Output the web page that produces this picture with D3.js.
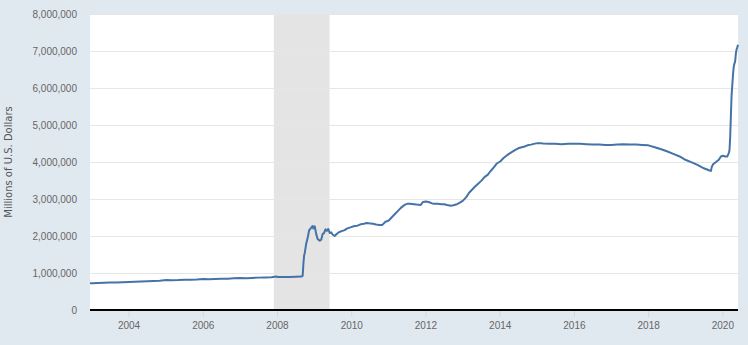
<!DOCTYPE html>
<html>
<head>
<meta charset="utf-8">
<script src="https://cdn.jsdelivr.net/npm/d3@7"></script>
<style>
  html, body { margin: 0; padding: 0; background: #e1e9f0; }
  svg { display: block; font-family: "DejaVu Sans", Verdana, sans-serif; }
</style>
</head>
<body>
<svg id="chart" width="748" height="345"></svg>
<script>
// Total assets, weekly H.4.1 readings (millions of U.S. dollars)
const dates = [
  "2002-12-18","2003-01-15","2003-03-05","2003-05-07","2003-07-02","2003-09-03","2003-11-05",
  "2004-01-07","2004-03-03","2004-05-05","2004-07-07","2004-09-01","2004-11-03",
  "2005-01-05","2005-03-02","2005-05-04","2005-07-06","2005-09-07","2005-11-02",
  "2006-01-04","2006-03-01","2006-05-03","2006-07-05","2006-09-06","2006-11-01",
  "2007-01-03","2007-03-07","2007-05-02","2007-07-04","2007-09-05","2007-11-07","2007-12-26",
  "2008-01-09","2008-03-05","2008-05-07","2008-07-02","2008-08-27","2008-09-10","2008-09-17",
  "2008-09-24","2008-10-01","2008-10-15","2008-10-29","2008-11-12","2008-11-26","2008-12-10",
  "2008-12-17","2008-12-24","2009-01-07","2009-01-21","2009-02-04","2009-02-25","2009-03-11",
  "2009-03-25","2009-04-08","2009-04-22","2009-05-06","2009-05-20","2009-06-03","2009-06-17",
  "2009-07-01","2009-07-22","2009-08-05","2009-08-26","2009-09-16","2009-10-07","2009-10-28",
  "2009-11-18","2009-12-09","2009-12-30","2010-02-03","2010-03-03","2010-04-07","2010-05-05",
  "2010-06-02","2010-07-07","2010-08-04","2010-09-01","2010-10-06","2010-11-03","2010-12-01",
  "2011-01-05","2011-02-02","2011-03-02","2011-04-06","2011-05-04","2011-06-08","2011-07-06",
  "2011-08-03","2011-09-07","2011-10-05","2011-11-16","2011-12-07","2012-01-04","2012-02-01",
  "2012-03-07","2012-04-04","2012-05-02","2012-06-06","2012-07-04","2012-08-01","2012-09-05",
  "2012-10-03","2012-11-07","2012-12-05","2013-01-02","2013-02-06","2013-03-06","2013-04-03",
  "2013-05-01","2013-06-05","2013-07-03","2013-08-07","2013-09-04","2013-10-02","2013-11-06",
  "2013-12-04","2014-01-08","2014-02-05","2014-03-05","2014-04-02","2014-05-07","2014-06-04",
  "2014-07-02","2014-08-06","2014-09-03","2014-10-01","2014-11-05","2014-12-03","2015-01-07",
  "2015-02-04","2015-03-04","2015-05-06","2015-07-01","2015-09-02","2015-11-04","2016-01-06",
  "2016-03-02","2016-05-04","2016-07-06","2016-09-07","2016-11-02","2017-01-04","2017-03-01",
  "2017-05-03","2017-07-05","2017-09-06","2017-11-01","2018-01-03","2018-03-07","2018-05-02",
  "2018-07-04","2018-09-05","2018-11-07","2019-01-02","2019-03-06","2019-05-01","2019-07-03",
  "2019-08-28","2019-09-11","2019-09-18","2019-10-02","2019-10-30","2019-11-27","2019-12-18",
  "2020-01-08","2020-01-29","2020-02-19","2020-03-04","2020-03-11","2020-03-18","2020-03-25",
  "2020-04-01","2020-04-08","2020-04-15","2020-04-22","2020-04-29","2020-05-06","2020-05-13",
  "2020-05-20","2020-05-27","2020-06-03"
];
const totalAssets = [
  720000,724000,730000,735000,740000,745000,752000,
  760000,765000,770000,777000,783000,792000,
  810000,805000,808000,815000,820000,827000,
  840000,832000,838000,845000,847000,855000,
  862000,860000,868000,875000,880000,885000,905000,
  890000,890000,895000,900000,905000,925000,1250000,
  1470000,1550000,1800000,1950000,2150000,2200000,2250000,
  2270000,2200000,2260000,2050000,1920000,1870000,1900000,
  2050000,2080000,2180000,2140000,2190000,2080000,2100000,
  2040000,2000000,2040000,2090000,2120000,2140000,2160000,
  2200000,2220000,2240000,2270000,2280000,2320000,2330000,
  2350000,2340000,2330000,2310000,2300000,2300000,2380000,
  2420000,2500000,2580000,2680000,2760000,2840000,2870000,
  2870000,2860000,2850000,2840000,2920000,2930000,2920000,
  2880000,2870000,2870000,2860000,2860000,2840000,2820000,
  2830000,2860000,2900000,2950000,3050000,3170000,3250000,
  3330000,3420000,3490000,3600000,3650000,3750000,3860000,
  3960000,4020000,4100000,4160000,4220000,4280000,4330000,
  4370000,4400000,4420000,4450000,4470000,4490000,4510000,
  4510000,4500000,4490000,4490000,4480000,4490000,4490000,
  4490000,4480000,4470000,4470000,4460000,4460000,4470000,
  4480000,4470000,4470000,4460000,4450000,4400000,4350000,
  4290000,4220000,4150000,4060000,3990000,3920000,3830000,
  3770000,3760000,3860000,3940000,4000000,4060000,4150000,
  4170000,4150000,4150000,4240000,4310000,4670000,5250000,
  5810000,6080000,6370000,6570000,6660000,6720000,6930000,
  7040000,7100000,7170000
];
// NBER recession band
const recessionStart = "2007-12-01";
const recessionEnd = "2009-06-01";
const yTicks = [0,1000000,2000000,3000000,4000000,5000000,6000000,7000000,8000000];
const yTitle = "Millions of U.S. Dollars";

const parse = d3.timeParse("%Y-%m-%d");
const series = dates.map((d, i) => ({ date: parse(d), value: totalAssets[i] }));

const width = 748, height = 345;
const margin = { top: 14, right: 10, bottom: 35, left: 90 };
const svg = d3.select("#chart");

const x = d3.scaleTime()
  .domain(d3.extent(series, d => d.date))
  .range([margin.left, width - margin.right]);
const y = d3.scaleLinear()
  .domain([0, 8000000])
  .range([height - margin.bottom, margin.top]);

// plot background
svg.append("rect")
  .attr("x", margin.left).attr("y", margin.top)
  .attr("width", width - margin.left - margin.right)
  .attr("height", height - margin.top - margin.bottom)
  .attr("fill", "#ffffff");

// recession shading
svg.append("rect")
  .attr("x", x(parse(recessionStart)))
  .attr("y", margin.top)
  .attr("width", x(parse(recessionEnd)) - x(parse(recessionStart)))
  .attr("height", height - margin.top - margin.bottom)
  .attr("fill", "#e4e4e4");

// horizontal grid
svg.append("g")
  .selectAll("line")
  .data(yTicks.filter(t => t > 0))
  .join("line")
  .attr("x1", margin.left).attr("x2", width - margin.right)
  .attr("y1", d => Math.round(y(d)) + 0.5).attr("y2", d => Math.round(y(d)) + 0.5)
  .attr("stroke", "#e6e6e6").attr("stroke-width", 1);

// y axis labels
const yAxis = d3.axisLeft(y)
  .tickValues(yTicks)
  .tickSize(0)
  .tickPadding(13)
  .tickFormat(d3.format(","));
svg.append("g")
  .attr("transform", `translate(${margin.left},0)`)
  .call(yAxis)
  .call(g => g.select(".domain").remove())
  .call(g => g.selectAll("text").attr("fill", "#666666").style("font-size", "10px"));

// x axis
const xAxis = d3.axisBottom(x)
  .ticks(d3.timeYear.every(2))
  .tickSize(7)
  .tickPadding(5)
  .tickFormat(d3.timeFormat("%Y"));
svg.append("g")
  .attr("transform", `translate(0,${height - margin.bottom})`)
  .call(xAxis)
  .call(g => g.select(".domain").remove())
  .call(g => g.selectAll("line").attr("stroke", "#ccd6eb"))
  .call(g => g.selectAll("text").attr("fill", "#666666").style("font-size", "10px"));

// zero baseline
svg.append("line")
  .attr("x1", margin.left).attr("x2", width - margin.right)
  .attr("y1", y(0)).attr("y2", y(0))
  .attr("stroke", "#000000").attr("stroke-width", 2);

// series line
const line = d3.line()
  .x(d => x(d.date))
  .y(d => y(d.value));
svg.append("path")
  .datum(series)
  .attr("fill", "none")
  .attr("stroke", "#4572a7")
  .attr("stroke-width", 2)
  .attr("stroke-linejoin", "round")
  .attr("d", line);

// y axis title
svg.append("text")
  .attr("transform", `translate(12,${(margin.top + height - margin.bottom) / 2}) rotate(-90)`)
  .attr("text-anchor", "middle")
  .attr("fill", "#555555")
  .style("font-size", "10px")
  .text(yTitle);
</script>
</body>
</html>
